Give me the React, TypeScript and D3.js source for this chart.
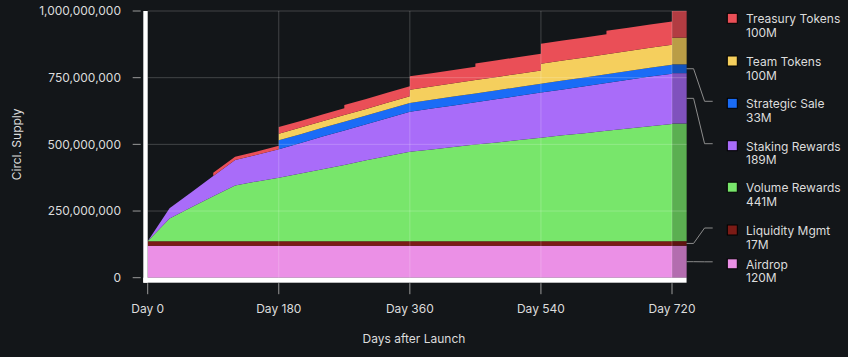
import React from "react";
import * as d3 from "d3";

// Vesting timeline (days after launch); repeated days mark unlock steps.
const days = [0, 30, 60, 90, 90, 120, 150, 180, 180, 210, 240, 270, 270, 300, 330, 360, 360, 390, 420, 450, 450, 480, 510, 540, 540, 570, 600, 630, 630, 660, 690, 720];

// Circulating amount per allocation, in millions of tokens.
const airdrop = [120, 120, 120, 120, 120, 120, 120, 120, 120, 120, 120, 120, 120, 120, 120, 120, 120, 120, 120, 120, 120, 120, 120, 120, 120, 120, 120, 120, 120, 120, 120, 120];
const liquidityMgmt = [17, 17, 17, 17, 17, 17, 17, 17, 17, 17, 17, 17, 17, 17, 17, 17, 17, 17, 17, 17, 17, 17, 17, 17, 17, 17, 17, 17, 17, 17, 17, 17];
const volumeRewards = [0, 85, 127, 168, 168, 209, 224, 238, 238, 254, 270, 286, 286, 303, 319, 335, 335, 344, 353, 362, 362, 370, 379, 388, 388, 397, 405, 414, 414, 422, 431, 439];
const stakingRewards = [0, 38, 56, 76, 76, 95, 100, 107, 107, 114, 122, 129, 129, 135, 143, 150, 150, 153, 156, 159, 159, 163, 166, 169, 169, 172, 176, 179, 179, 183, 186, 189];
const strategicSale = [0, 0, 0, 0, 0, 0, 0, 0, 33, 33, 33, 33, 33, 33, 33, 33, 33, 33, 33, 33, 33, 33, 33, 33, 33, 33, 33, 33, 33, 33, 33, 33];
const teamTokens = [0, 0, 0, 0, 0, 0, 0, 0, 25, 25, 25, 25, 25, 25, 25, 25, 50, 50, 50, 50, 50, 50, 50, 50, 75, 75, 75, 75, 75, 75, 75, 75];
const treasuryTokens = [0, 0, 0, 0, 12.5, 12.5, 12.5, 12.5, 25, 25, 25, 25, 37.5, 37.5, 37.5, 37.5, 50, 50, 50, 50, 62.5, 62.5, 62.5, 62.5, 75, 75, 75, 75, 87.5, 87.5, 87.5, 87.5];

// Stack order (bottom to top), full allocations and colours.
const seriesKeys = ["airdrop", "liquidity", "volume", "staking", "strategic", "team", "treasury"];
const seriesNames = ["Airdrop", "Liquidity Mgmt", "Volume Rewards", "Staking Rewards", "Strategic Sale", "Team Tokens", "Treasury Tokens"];
const totalAllocation = [120, 17, 441, 189, 33, 100, 100];
const seriesColors = ["#eb90e6", "#7b1b16", "#78e66b", "#a96cf9", "#1a6cf6", "#f5cf5d", "#ea4f57"];

const yTicks = [0, 250, 500, 750, 1000];
const xTicks = [0, 180, 360, 540, 720];

const W = 848;
const H = 357;
const X0 = 147.7;
const X720 = 672;
const YTOP = 11;
const YBOT = 277.7;
const BAND_END_DAY = 740;

// Legend rows (square centre y) from top entry to bottom entry.
const legendRowY = [18.3, 61, 103.3, 145.7, 187.2, 230, 263.8];
const leaderKeys = new Set(["strategic", "staking", "liquidity", "airdrop"]);

export default function App() {
  const x = d3.scaleLinear().domain([0, 720]).range([X0, X720]);
  const y = d3.scaleLinear().domain([0, 1000]).range([YBOT, YTOP]);

  const columns = [airdrop, liquidityMgmt, volumeRewards, stakingRewards, strategicSale, teamTokens, treasuryTokens];
  const rows = days.map((d, i) => {
    const r: Record<string, number> = { day: d };
    seriesKeys.forEach((k, j) => (r[k] = columns[j][i]));
    return r;
  });
  const stacked = d3.stack<Record<string, number>>().keys(seriesKeys)(rows);

  const area = d3
    .area<d3.SeriesPoint<Record<string, number>>>()
    .x((d) => x(d.data.day))
    .y0((d) => y(d[0]))
    .y1((d) => y(d[1]));

  // Final allocation band drawn after the last day.
  const finalRow: Record<string, number> = {};
  seriesKeys.forEach((k, j) => (finalRow[k] = totalAllocation[j]));
  const finalStack = d3.stack<Record<string, number>>().keys(seriesKeys)([finalRow]);
  const bandX0 = x(720);
  const bandX1 = x(BAND_END_DAY);

  const fmt = d3.format(",");
  const font = "Inter, 'Noto Sans', sans-serif";
  const textColor = "#dcdcdc";
  const gridColor = "rgba(255,255,255,0.2)";

  return (
    <svg width={W} height={H} style={{ position: "absolute", left: 0, top: 0 }} fontFamily={font}>
      <rect x={0} y={0} width={W} height={H} fill="#131619" />

      {stacked.map((s, i) => (
        <path key={s.key} d={area(s) || ""} fill={seriesColors[i]} />
      ))}

      {finalStack.map((s, i) => (
        <rect
          key={"band-" + s.key}
          x={bandX0}
          width={bandX1 - bandX0}
          y={y(s[0][1])}
          height={y(s[0][0]) - y(s[0][1])}
          fill={seriesColors[i]}
        />
      ))}
      <rect x={bandX0} width={bandX1 - bandX0} y={y(1000)} height={YBOT - y(1000)} fill="#000" opacity={0.24} />

      {/* grid */}
      {yTicks.slice(1).map((t) => (
        <line key={"gy" + t} x1={X0} x2={bandX1} y1={y(t)} y2={y(t)} stroke={gridColor} strokeWidth={1} />
      ))}
      {xTicks.slice(1).map((t) => (
        <line key={"gx" + t} x1={x(t)} x2={x(t)} y1={YTOP} y2={YBOT} stroke={gridColor} strokeWidth={1} />
      ))}

      {/* axis frame */}
      <rect x={143.3} y={YTOP} width={4.4} height={YBOT + 5 - YTOP} fill="#ffffff" />
      <rect x={143.3} y={YBOT} width={bandX1 - 143.3} height={5} fill="#ffffff" />

      {/* y axis */}
      {yTicks.map((t) => (
        <g key={"yt" + t}>
          <line x1={132.7} x2={140.7} y1={y(t)} y2={y(t)} stroke="#9a9a9a" strokeWidth={1} />
          <text x={121} y={y(t)} dy="0.35em" textAnchor="end" fontSize={12} fill={textColor}>
            {fmt(t * 1e6)}
          </text>
        </g>
      ))}
      <text
        transform={`translate(${16.5},${(YTOP + YBOT) / 2}) rotate(-90)`}
        dy="0.35em"
        textAnchor="middle"
        fontSize={12}
        fill={textColor}
      >
        Circl. Supply
      </text>

      {/* x axis */}
      {xTicks.map((t) => (
        <g key={"xt" + t}>
          <line x1={x(t)} x2={x(t)} y1={YBOT + 5.5} y2={YBOT + 16.5} stroke="#9a9a9a" strokeWidth={1} />
          <text x={x(t)} y={313} textAnchor="middle" fontSize={12} fill={textColor}>
            {"Day " + t}
          </text>
        </g>
      ))}
      <text x={414} y={343} textAnchor="middle" fontSize={12} fill={textColor}>
        Days after Launch
      </text>

      {/* legend, top entry first */}
      {seriesKeys
        .map((k, i) => ({ k, i }))
        .reverse()
        .map(({ k, i }, row) => {
          const cy = legendRowY[row];
          const s = finalStack[i][0];
          const bandMid = (y(s[0]) + y(s[1])) / 2;
          return (
            <g key={"lg" + k}>
              {leaderKeys.has(k) && (
                <path
                  d={`M${bandX1},${bandMid}H${bandX1 + 7}L${bandX1 + 18},${cy - 2}H${712.7}`}
                  fill="none"
                  stroke="#8c8c8c"
                  strokeWidth={1}
                />
              )}
              <rect x={727.3} y={cy - 5} width={10} height={10} fill={seriesColors[i]} stroke="#000" strokeWidth={1} />
              <text x={746} y={cy + 5} fontSize={12} fill={textColor}>
                {seriesNames[i]}
              </text>
              <text x={746} y={cy + 18.5} fontSize={12} fill={textColor}>
                {totalAllocation[i] + "M"}
              </text>
            </g>
          );
        })}
    </svg>
  );
}
